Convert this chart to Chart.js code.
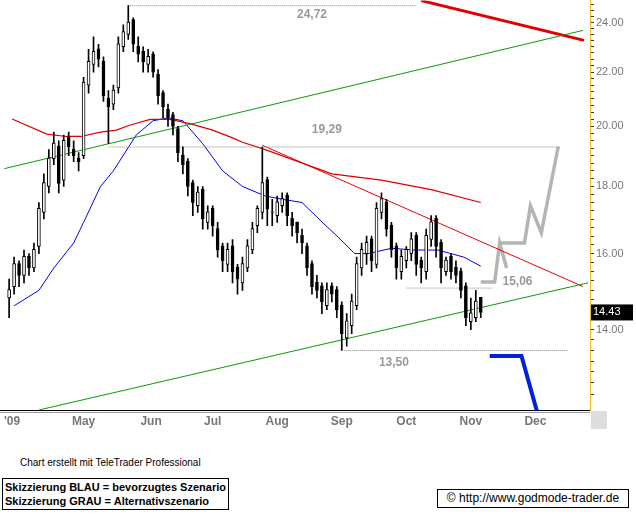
<!DOCTYPE html>
<html><head><meta charset="utf-8">
<script src="https://cdn.jsdelivr.net/npm/chart.js@4.4.1/dist/chart.umd.min.js"></script>
<style>
body{margin:0;background:#fff;width:636px;height:515px;position:relative;overflow:hidden;font-family:Arial,"Liberation Sans",sans-serif}
#wrap{position:absolute;left:0;top:-8px;width:636px;height:440px}
.t{position:absolute;font-size:10px;color:#000;white-space:nowrap}
.b{font-weight:bold;font-size:11px}
</style></head><body>
<div id="wrap"><canvas id="c"></canvas></div>
<div class="t" style="left:20px;top:457px">Chart erstellt mit TeleTrader Professional</div>
<div style="position:absolute;left:2px;top:478px;border:1px solid #000;padding:1px 2px;line-height:14px">
<div class="t b" style="position:static">Skizzierung BLAU = bevorzugtes Szenario</div>
<div class="t b" style="position:static">Skizzierung GRAU = Alternativszenario</div></div>
<div style="position:absolute;left:437px;top:489px;width:190px;height:17px;border:1px solid #000;font-size:12px;line-height:17px;text-align:center">© http://www.godmode-trader.de</div>
<script>
const monthLabels=["'09","May","Jun","Jul","Aug","Sep","Oct","Nov","Dec"];
const monthPos=[0.6,15,28.6,41,54,67,80,93,106];
const yMajor=[14,16,18,20,22,24];
const opens=[14.8,15.1,15.7,15.4,15.9,15.6,16.2,17.2,18.0,18.9,19.3,18.2,19.6,19.2,18.9,19.0,21.5,22.3,22.9,22.4,21.0,20.8,21.4,23.0,23.5,24.1,23.0,22.8,22.3,22.7,21.9,21.2,20.6,20.4,19.9,19.0,18.8,18.1,17.4,17.9,16.9,17.3,16.7,16.2,15.7,16.2,15.6,15.2,15.6,16.1,16.8,17.2,18.2,17.2,17.1,17.4,17.7,17.0,16.9,16.5,16.2,15.7,15.2,15.1,14.6,15.1,15.0,14.6,13.8,14.1,14.6,15.6,16.0,16.4,15.7,17.2,17.5,16.8,16.2,15.5,15.8,16.0,16.5,15.8,15.5,16.4,17.0,16.3,15.5,15.9,15.6,15.5,15.1,14.2,14.3,14.8];
const closes=[15.0,15.7,15.4,15.9,15.6,16.1,17.3,18.1,18.9,19.4,18.1,19.5,19.3,19.0,18.8,21.6,22.4,22.8,22.5,21.1,20.7,21.3,23.1,23.6,24.0,23.1,22.7,22.4,22.6,22.0,21.1,20.7,20.3,20.0,19.1,18.7,18.0,17.5,17.8,17.0,17.2,16.8,16.1,15.8,16.1,15.5,15.3,15.7,16.2,16.7,17.3,18.1,17.3,17.2,17.5,17.6,17.1,16.8,16.6,16.3,15.6,15.1,15.0,14.7,15.0,14.9,14.5,13.9,14.2,14.7,15.7,16.1,16.3,15.8,17.3,17.6,16.7,16.1,15.6,15.9,16.1,16.4,15.7,15.6,16.5,16.9,16.2,15.6,15.8,15.5,15.4,15.0,14.3,14.4,14.7,14.43];
const highs=[15.3,15.9,15.8,16.1,16.0,16.3,17.5,18.4,19.2,19.8,19.5,19.7,19.8,19.5,19.1,21.8,22.9,23.4,23.1,22.6,21.3,21.5,23.4,23.9,24.72,24.2,23.4,23.0,22.9,22.8,22.1,21.3,20.8,20.5,20.0,19.3,18.9,18.2,18.0,18.0,17.4,17.4,16.9,16.3,16.3,16.4,15.7,15.9,16.4,16.9,17.4,19.29,18.3,17.6,17.7,17.8,17.8,17.2,16.9,16.7,16.3,15.8,15.4,15.2,15.2,15.2,15.1,14.7,14.4,14.9,15.9,16.3,16.5,16.5,17.5,17.8,17.6,16.9,16.3,16.1,16.2,16.6,16.6,15.9,16.7,17.1,17.1,16.4,15.9,16.0,15.8,15.6,15.2,14.8,15.0,14.8];
const lows=[14.3,14.9,15.1,15.2,15.4,15.5,16.0,17.0,17.8,18.7,17.8,18.0,19.0,18.8,18.5,18.9,21.2,22.0,22.2,20.9,19.4,20.6,21.2,22.8,23.3,22.8,22.4,22.0,22.0,21.8,20.8,20.3,20.0,19.7,18.8,18.4,17.7,17.1,17.2,16.7,16.7,16.5,15.9,15.5,15.5,15.2,14.9,15.0,15.5,16.0,16.6,17.0,16.8,16.8,16.9,17.2,16.8,16.5,16.3,16.0,15.4,14.9,14.8,14.4,14.5,14.7,14.3,13.5,13.6,13.9,14.5,15.4,15.7,15.5,15.6,17.0,16.5,15.9,15.3,15.3,15.6,15.8,15.4,15.2,15.3,16.2,15.9,15.2,15.4,15.3,15.2,14.8,14.1,14.0,14.2,14.3];
const maShortX=[1,6,9,13,15,18.4,21,25.6,29,32,35,39,43,47,51.6,55,59,62.4,66.4,69.6,72.4,77,81.6,86.4,91.6,95];
const maShortY=[14.6,15.0,15.6,16.3,16.9,18.0,18.5,19.7,20.2,20.3,20.2,19.4,18.5,18.0,17.7,17.6,17.5,17.0,16.45,16.0,16.0,16.15,16.1,16.1,15.9,15.65];
const maLongX=[0.6,7.6,11.6,14.4,18.4,21.6,24.4,28.4,32.4,36.4,41,45,47,51.6,65,75,85,95];
const maLongY=[20.26,19.73,19.65,19.65,19.8,19.87,20.05,20.25,20.25,20.1,19.87,19.6,19.45,19.2,18.4,18.2,17.9,17.5];
const downTrend=[[51,19.35],[115.6,15.1]];
const thickRed=[[83,24.94],[115.8,23.26]];
const greenUpper=[[-1,18.57],[115.6,23.67]];
const greenLower=[[6,12.16],[116.6,15.2]];
const refLevels=[24.72,19.29,15.06,13.50];
const refLabels=["24,72","19,29","15,06","13,50"];
const refFrom=[24,20,80,67.4];
const refTo=[82,111,97.4,112.6];
const refLabelX=[61,64,102.4,77.5];
const grayA=[[95,15.22],[97.8,15.22],[98.8,16.3],[100.2,15.6]];
const grayB=[[98.6,16.3],[103.8,16.3],[105,17.4],[107.2,16.6],[110.6,19.3]];
const blueProj=[[96.8,13.37],[103.2,13.37],[106.4,12.1]];
const lastPrice=14.43;

const pts=a=>a.map(p=>({x:p[0],y:p[1]}));
const xy=(xs,ys)=>xs.map((x,i)=>({x,y:ys[i]}));
const line=(data,color,w,extra)=>Object.assign({type:'line',data,borderColor:color,borderWidth:w,pointRadius:0,fill:false,tension:0,order:2},extra||{});
const ds=[];
refLevels.forEach((v,k)=>ds.push(line([{x:refFrom[k],y:v},{x:refTo[k],y:v}],'#888',1,{borderDash:[1,1]})));
ds.push(line(pts(greenUpper),'#0a9a0a',1));
ds.push(line(pts(greenLower),'#0a9a0a',1));
ds.push(line(xy(maLongX,maLongY),'#e00000',1.2));
ds.push(line(pts(downTrend),'#f00000',1));
ds.push(line(pts(thickRed),'#e00000',3));
ds.push(line(xy(maShortX,maShortY),'#0000ee',1));
ds.push(line(pts(grayA),'#b4b4b4',3.5));
ds.push(line(pts(grayB),'#b4b4b4',3.5));
ds.push(line(pts(blueProj),'#0022dd',4,{order:0}));
const idx=closes.map((_,i)=>i);
ds.push({type:'bar',data:idx.map(i=>({x:i,y:[lows[i],highs[i]]})),backgroundColor:'#000',barThickness:1,grouped:false,order:1});
ds.push({type:'bar',data:idx.map(i=>({x:i,y:[Math.min(opens[i],closes[i]),Math.max(opens[i],closes[i])+0.02]})),
 backgroundColor:idx.map(i=>closes[i]>=opens[i]?'#fff':'#000'),borderColor:'#000',borderWidth:1,borderSkipped:false,barThickness:3,grouped:false,order:0});

const overlay={id:'ov',afterDatasetsDraw(ch){
 const c=ch.ctx,x=ch.scales.x,y=ch.scales.y,a=ch.chartArea;
 c.save();
 c.font='bold 12px Arial';c.fillStyle='#999';c.textAlign='center';c.textBaseline='middle';
 refLevels.forEach((v,k)=>{const dy=(k==0)?9:(k==3?12:(k==2?-6:-17));c.fillText(refLabels[k],x.getPixelForValue(refLabelX[k]),y.getPixelForValue(v)+dy);});
 const py=y.getPixelForValue(lastPrice);
 c.fillStyle='#000';c.fillRect(a.right+1,py-8,42,16);
 c.fillStyle='#fff';c.font='11px Arial';c.textAlign='left';c.fillText(lastPrice.toFixed(2),a.right+3,py);
 c.strokeStyle='#000';c.lineWidth=1;c.beginPath();c.moveTo(0,a.bottom+0.5);c.lineTo(a.right,a.bottom+0.5);c.stroke();
 c.strokeStyle='#999';c.beginPath();c.moveTo(0,a.bottom+2.5);c.lineTo(a.right,a.bottom+2.5);c.stroke();
 c.fillStyle='#ddd';c.fillRect(a.right+1,a.bottom+1,16,18);
 c.restore();
}};
new Chart(document.getElementById('c'),{
 data:{datasets:ds},
 options:{responsive:true,maintainAspectRatio:false,animation:false,
  layout:{padding:0},
  plugins:{legend:{display:false},tooltip:{enabled:false}},
  scales:{
   x:{type:'linear',min:-1,max:117,offset:false,grid:{display:false,drawTicks:false},border:{display:false},
    afterBuildTicks:s=>{s.ticks=monthPos.map(v=>({value:v}));},
    afterFit:s=>{s.height=22;},
    ticks:{autoSkip:false,maxRotation:0,padding:4,color:'#777',font:{family:'Arial',size:12,weight:'bold'},
     callback:(v,i)=>monthLabels[i]}},
   y:{type:'logarithmic',position:'right',min:12.16,max:24.94,
    afterBuildTicks:s=>{const t=[];for(let v=12.5;v<=24.75;v+=0.25)t.push({value:v});s.ticks=t;},
    afterFit:s=>{s.width=46;},
    grid:{drawOnChartArea:false,tickLength:4,color:'#333'},border:{color:'#e8c020',width:1},
    ticks:{autoSkip:false,padding:2,color:'#777',font:{family:'Arial',size:11},
     callback:v=>yMajor.includes(v)?v.toFixed(2):''}}
  }},
 plugins:[overlay]
});
</script></body></html>
